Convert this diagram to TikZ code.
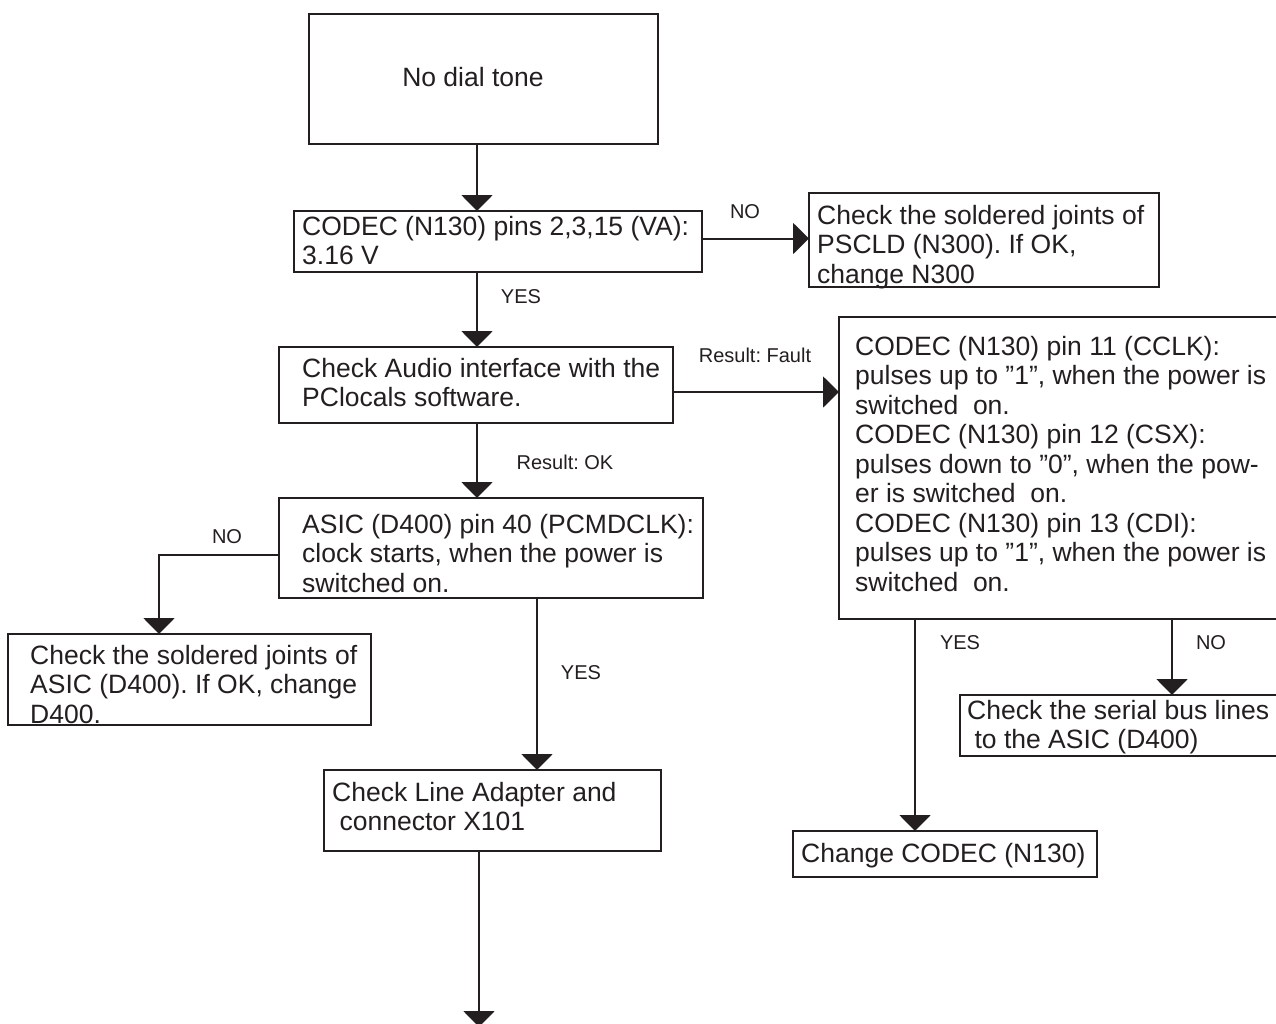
\documentclass[tikz,border=0pt]{standalone}
\usepackage{fontspec}
\setmainfont{Liberation Sans}
\usetikzlibrary{arrows.meta}
\definecolor{ink}{HTML}{231F20}
\newcommand\bigfont{\fontsize{26.5}{29.5}\selectfont\frenchspacing}
\newcommand\smallfont{\fontsize{20}{24}\selectfont\frenchspacing}
\begin{document}
\begin{tikzpicture}[x=1pt,y=-1pt,
  box/.style={draw=ink, line width=2pt, inner sep=0pt, outer sep=0pt, rectangle},
  txt/.style={anchor=base west, inner sep=0pt, text width=470pt, align=flush left, font=\bigfont, text=ink},
  lbl/.style={inner sep=0pt, font=\smallfont, text=ink},
  arr/.style={draw=ink, line width=2pt, -{Triangle[width=31pt,length=16pt]}}]
\useasboundingbox[fill=white] (0,0) rectangle (1276,1023);

% boxes
\node[box, minimum width=349pt, minimum height=130pt] (A)  at (483.5,79)   {};
\node[box, minimum width=408pt, minimum height=61pt]  (B)  at (498,241.5)  {};
\node[box, minimum width=350pt, minimum height=94pt]  (PS) at (984,240)    {};
\node[box, minimum width=394pt, minimum height=76pt]  (C)  at (476,385)    {};
\node[box, minimum width=424pt, minimum height=100pt] (D)  at (491,548)    {};
\node[box, minimum width=441pt, minimum height=302pt] (F)  at (1059.5,468) {};
\node[box, minimum width=363pt, minimum height=91pt]  (E)  at (189.5,679.5){};
\node[box, minimum width=337pt, minimum height=81pt]  (LA) at (492.5,810.5){};
\node[box, minimum width=320pt, minimum height=61pt]  (SB) at (1120,725.5) {};
\node[box, minimum width=304pt, minimum height=46pt]  (CC) at (945,854)    {};

% texts
\node[inner sep=0pt, anchor=base, font=\bigfont, text=ink] (tA) at (473,86) {No dial tone};
\node[txt] (tB) at (302,235) {CODEC (N130) pins 2,3,15 (VA):\\3.16 V};
\node[txt] (tPS) at (817,224) {Check the soldered joints of\\PSCLD (N300). If OK,\\change N300};
\node[txt] (tC) at (302,377) {Check Audio interface with the\\PClocals software.};
\node[txt] (tD) at (302,533) {ASIC (D400) pin 40 (PCMDCLK):\\clock starts, when the power is\\switched on.};
\node[txt] (tF) at (855,355) {CODEC (N130) pin 11 (CCLK):\\pulses up to ”1”, when the power is\\switched~~on.\\CODEC (N130) pin 12 (CSX):\\pulses down to ”0”, when the pow-\\er is switched~~on.\\CODEC (N130) pin 13 (CDI):\\pulses up to ”1”, when the power is\\switched~~on.};
\node[txt] (tE) at (30,664) {Check the soldered joints of\\ASIC (D400). If OK, change\\D400.};
\node[txt] (tLA) at (332,801) {Check Line Adapter and\\~connector X101};
\node[txt] (tSB) at (967,719) {Check the serial bus lines\\~to the ASIC (D400)};
\node[txt] (tCC) at (801,862) {Change CODEC (N130)};

% labels
\node[lbl] (l1) at (745,212) {NO};
\node[lbl] (l2) at (521,297) {YES};
\node[lbl] (l3) at (755,355) {Result: Fault};
\node[lbl] (l4) at (565,462) {Result: OK};
\node[lbl] (l5) at (227,537) {NO};
\node[lbl] (l6) at (581,673) {YES};
\node[lbl] (l7) at (960,643) {YES};
\node[lbl] (l8) at (1211,643) {NO};

% connectors
\coordinate (spine) at (477,0);
\coordinate (endpt) at (479,1027);
\draw[arr] (A.south -| spine) -- (B.north -| spine);
\draw[arr] ([yshift=3pt]B.east) -- ([yshift=3pt]B.east -| PS.west);
\draw[arr] (B.south -| spine) -- (C.north -| spine);
\draw[arr] ([yshift=-7pt]C.east) -- ([yshift=-7pt]C.east -| F.west);
\draw[arr] (C.south -| spine) -- (D.north -| spine);
\draw[arr] ([yshift=-7pt]D.west) -| ([xshift=-30.5pt]E.north);
\draw[arr] ([xshift=44.5pt]LA.north |- D.south) -- ([xshift=44.5pt]LA.north);
\draw[arr] ([xshift=-30pt]CC.north |- F.south) -- ([xshift=-30pt]CC.north);
\draw[arr] ([xshift=52pt]SB.north |- F.south) -- ([xshift=52pt]SB.north);
\draw[arr] (LA.south -| endpt) -- (endpt);
\end{tikzpicture}
\end{document}
